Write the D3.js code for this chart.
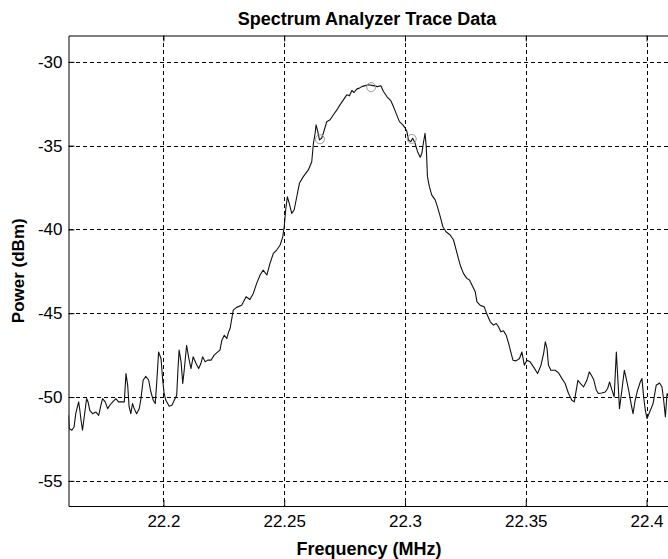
<!DOCTYPE html>
<meta charset="utf-8">
<head>
    <title> Spectrum Analyzer Trace Data </title>
</head>
<style>
    body { margin: 0; background: #fff; }
    text { font-family: "Liberation Sans", Arial, sans-serif; }
    .grid line { stroke: #000; stroke-width: 1px; stroke-dasharray: 4,3; shape-rendering: crispEdges; }
    .trace { fill: none; stroke: #111; stroke-width: 1.1px; stroke-linejoin: round; }
    .marker { fill: none; stroke: #999; stroke-width: 1px; }
</style>
<body>
<script src="https://d3js.org/d3.v7.min.js"></script>
<script>
// trace (MHz, dBm)
var freq = [
    22.1607, 22.1610, 22.1621, 22.1630, 22.1637, 22.1649, 22.1654, 22.1659, 22.1665, 22.1672,
    22.1682, 22.1688, 22.1695, 22.1707, 22.1720, 22.1732, 22.1741, 22.1748, 22.1759, 22.1769,
    22.1778, 22.1790, 22.1803, 22.1814, 22.1824, 22.1838, 22.1845, 22.1852, 22.1858, 22.1865,
    22.1872, 22.1879, 22.1889, 22.1900, 22.1907, 22.1916, 22.1927, 22.1939, 22.1948, 22.1958,
    22.1966, 22.1972, 22.1980, 22.1990, 22.1997, 22.2003, 22.2010, 22.2024, 22.2035, 22.2045,
    22.2055, 22.2060, 22.2065, 22.2073, 22.2080, 22.2086, 22.2096, 22.2104, 22.2114, 22.2123,
    22.2135, 22.2146, 22.2155, 22.2162, 22.2173, 22.2183, 22.2197, 22.2210, 22.2225, 22.2234,
    22.2242, 22.2252, 22.2262, 22.2270, 22.2276, 22.2289, 22.2303, 22.2324, 22.2342, 22.2358,
    22.2372, 22.2386, 22.2400, 22.2413, 22.2428, 22.2441, 22.2455, 22.2469, 22.2483, 22.2494,
    22.2500, 22.2506, 22.2513, 22.2521, 22.2531, 22.2541, 22.2552, 22.2563, 22.2579, 22.2600,
    22.2614, 22.2621, 22.2628, 22.2632, 22.2639, 22.2646, 22.2655, 22.2662, 22.2676, 22.2690,
    22.2703, 22.2718, 22.2731, 22.2745, 22.2759, 22.2770, 22.2780, 22.2789, 22.2800, 22.2811,
    22.2821, 22.2835, 22.2848, 22.2869, 22.2886, 22.2900, 22.2911, 22.2925, 22.2941, 22.2952,
    22.2963, 22.2977, 22.2991, 22.3001, 22.3008, 22.3014, 22.3024, 22.3032, 22.3042, 22.3052,
    22.3063, 22.3070, 22.3076, 22.3083, 22.3088, 22.3093, 22.3101, 22.3111, 22.3125, 22.3134,
    22.3146, 22.3157, 22.3170, 22.3187, 22.3201, 22.3212, 22.3221, 22.3231, 22.3242, 22.3256,
    22.3267, 22.3291, 22.3298, 22.3311, 22.3328, 22.3339, 22.3353, 22.3366, 22.3378, 22.3387,
    22.3397, 22.3408, 22.3419, 22.3429, 22.3438, 22.3447, 22.3460, 22.3474, 22.3484, 22.3494,
    22.3505, 22.3518, 22.3532, 22.3549, 22.3563, 22.3574, 22.3581, 22.3588, 22.3594, 22.3604,
    22.3622, 22.3636, 22.3650, 22.3663, 22.3677, 22.3691, 22.3701, 22.3709, 22.3716, 22.3726,
    22.3739, 22.3753, 22.3763, 22.3774, 22.3781, 22.3792, 22.3801, 22.3815, 22.3829, 22.3839,
    22.3847, 22.3857, 22.3866, 22.3875, 22.3880, 22.3888, 22.3898, 22.3908, 22.3916, 22.3926,
    22.3936, 22.3944, 22.3953, 22.3963, 22.3974, 22.3981, 22.3988, 22.3995, 22.4002, 22.4013,
    22.4027, 22.4040, 22.4054, 22.4064, 22.4071, 22.4078, 22.4085, 22.4090
];

var power = [
    -51.09, -51.88, -51.98, -51.79, -50.99, -50.29, -50.79, -51.39, -51.98, -51.19,
    -50.09, -50.29, -50.79, -50.99, -50.89, -51.09, -50.49, -50.09, -50.29, -50.69,
    -50.49, -50.29, -50.09, -50.29, -50.29, -50.29, -48.60, -49.30, -50.59, -50.99,
    -50.39, -50.69, -50.99, -50.69, -50.09, -49.00, -48.76, -49.00, -49.70, -50.19,
    -50.39, -49.19, -47.31, -47.70, -49.00, -49.79, -50.19, -50.55, -50.49, -50.19,
    -49.89, -48.40, -47.20, -47.90, -49.19, -48.40, -46.91, -47.60, -48.30, -47.60,
    -48.00, -48.30, -48.00, -47.60, -47.90, -47.80, -47.80, -47.50, -47.31, -47.20,
    -46.61, -46.31, -46.51, -46.11, -45.91, -44.81, -44.65, -44.52, -44.02, -44.18,
    -43.82, -43.22, -42.72, -42.43, -42.72, -42.03, -41.43, -41.23, -40.93, -40.44,
    -39.84, -38.84, -38.05, -38.44, -39.04, -38.84, -38.05, -37.25, -36.85, -36.45,
    -35.96, -34.86, -34.26, -33.76, -34.16, -34.66, -34.56, -34.26, -33.57, -33.46,
    -33.17, -32.87, -32.57, -32.27, -31.97, -32.03, -31.71, -31.83, -31.63, -31.57,
    -31.48, -31.42, -31.37, -31.42, -31.48, -31.43, -31.77, -32.07, -32.31, -32.67,
    -33.06, -33.57, -33.76, -33.96, -34.16, -34.66, -34.76, -34.56, -34.86, -35.36,
    -35.69, -35.45, -34.86, -34.26, -35.06, -36.85, -37.45, -37.95, -38.24, -38.64,
    -39.24, -39.84, -40.14, -40.33, -40.63, -41.23, -41.73, -42.23, -42.62, -42.92,
    -43.02, -43.72, -44.32, -44.52, -44.62, -45.05, -45.51, -45.71, -45.61, -45.81,
    -46.11, -46.05, -46.31, -46.80, -47.31, -47.80, -47.84, -47.70, -47.31, -48.10,
    -47.80, -47.90, -48.20, -48.60, -48.10, -47.40, -46.71, -47.10, -48.10, -48.40,
    -48.40, -48.56, -48.90, -49.19, -49.79, -50.19, -50.29, -49.59, -49.00, -49.19,
    -49.40, -49.00, -48.50, -48.76, -48.95, -49.59, -49.79, -49.76, -49.70, -49.49,
    -49.10, -49.59, -49.99, -47.31, -48.60, -50.69, -49.59, -48.40, -48.90, -49.59,
    -50.39, -50.99, -50.19, -49.59, -49.10, -48.90, -49.99, -50.79, -51.28, -50.89,
    -50.39, -49.30, -49.16, -49.40, -50.19, -51.19, -49.79, -49.95
];

// circled points
var markFreq = [22.2860, 22.2648, 22.3028];
var markPower = [-31.51, -34.62, -34.60];

var xTicks = [22.2, 22.25, 22.3, 22.35, 22.4];
var yTicks = [-30, -35, -40, -45, -50, -55];

var width = 668,
    height = 559;

var plotL = 68.5, plotR = 669, plotT = 35.5, plotB = 506;

var svg = d3.select("body")
            .append("svg")
            .attr("width", width)
            .attr("height", height);

var x = d3.scaleLinear()
            .domain([22.1607, 22.4093])
            .range([plotL, plotR]);

var y = d3.scaleLinear()
            .domain([-56.5, -28.43])
            .range([plotB, plotT]);

svg.append("defs").append("clipPath")
    .attr("id", "plotclip")
    .append("rect")
    .attr("x", plotL)
    .attr("y", plotT)
    .attr("width", plotR - plotL)
    .attr("height", plotB - plotT);

// grid
var grid = svg.append("g").attr("class", "grid");

grid.selectAll(".vgrid")
    .data(xTicks)
    .enter()
    .append("line")
    .attr("x1", function(d){ return Math.round(x(d)) + 0.5; })
    .attr("x2", function(d){ return Math.round(x(d)) + 0.5; })
    .attr("y1", plotT)
    .attr("y2", plotB);

grid.selectAll(".hgrid")
    .data(yTicks)
    .enter()
    .append("line")
    .attr("y1", function(d){ return Math.round(y(d)) + 0.5; })
    .attr("y2", function(d){ return Math.round(y(d)) + 0.5; })
    .attr("x1", plotL)
    .attr("x2", plotR);

// axes, ticks pointing inward
var xAxis = svg.append("g")
    .attr("transform", "translate(0," + plotB + ")")
    .call(d3.axisBottom(x).tickValues(xTicks).tickSizeInner(-6).tickSizeOuter(0).tickPadding(9)
        .tickFormat(function(d){ return String(+d.toFixed(2)); }));

var xTop = svg.append("g")
    .attr("transform", "translate(0," + plotT + ")")
    .call(d3.axisTop(x).tickValues(xTicks).tickSizeInner(-6).tickSizeOuter(0).tickFormat(""));

var yAxis = svg.append("g")
    .attr("transform", "translate(" + plotL + ",0)")
    .call(d3.axisLeft(y).tickValues(yTicks).tickSizeInner(-6).tickSizeOuter(0).tickPadding(6)
        .tickFormat(function(d){ return String(d); }));

svg.selectAll(".domain").attr("stroke", "#000").attr("stroke-width", 1);
svg.selectAll(".tick line").attr("stroke", "#000");
svg.selectAll(".tick text")
    .style("font-size", "17px")
    .attr("fill", "#000");

// trace
var line = d3.line()
    .x(function(d, i){ return x(freq[i]); })
    .y(function(d, i){ return y(power[i]); });

svg.append("path")
    .datum(power)
    .attr("class", "trace")
    .attr("clip-path", "url(#plotclip)")
    .attr("d", line);

svg.selectAll(".marker")
    .data(markFreq)
    .enter()
    .append("circle")
    .attr("class", "marker")
    .attr("cx", function(d){ return x(d); })
    .attr("cy", function(d, i){ return y(markPower[i]); })
    .attr("r", 4.5);

// titles
svg.append("text")
    .attr("x", 367)
    .attr("y", 25)
    .attr("text-anchor", "middle")
    .style("font-size", "18px")
    .style("font-weight", "bold")
    .text("Spectrum Analyzer Trace Data");

svg.append("text")
    .attr("x", 369)
    .attr("y", 555)
    .attr("text-anchor", "middle")
    .style("font-size", "18px")
    .style("font-weight", "bold")
    .text("Frequency (MHz)");

svg.append("text")
    .attr("transform", "translate(24," + ((plotT + plotB) / 2) + ") rotate(-90)")
    .attr("text-anchor", "middle")
    .style("font-size", "17px")
    .style("font-weight", "bold")
    .text("Power (dBm)");
</script>
</body>
